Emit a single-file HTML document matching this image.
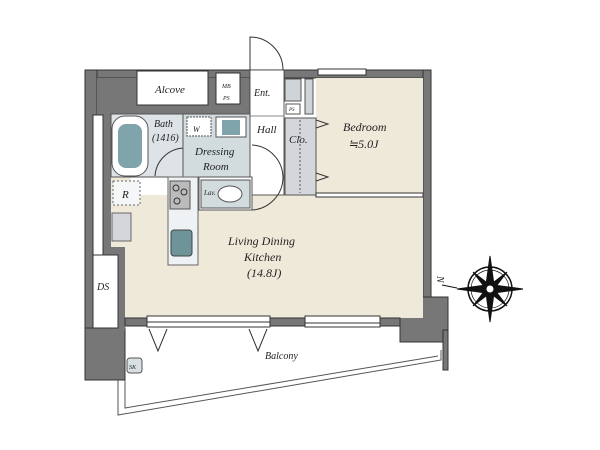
<!DOCTYPE html>
<html><head><meta charset="utf-8"><style>
html,body{margin:0;padding:0;background:#fff;}
svg{display:block;}
text{font-family:"Liberation Serif",serif;font-style:italic;fill:#222;}
</style></head><body>
<svg width="600" height="450" viewBox="0 0 600 450" xmlns="http://www.w3.org/2000/svg">
<rect x="85" y="70" width="345" height="8" fill="#777" stroke="#333" stroke-width="1"/>
<rect x="85" y="70" width="12" height="310" fill="#777" stroke="#333" stroke-width="1"/>
<rect x="423" y="70" width="8" height="228" fill="#777" stroke="#333" stroke-width="1"/>
<rect x="400" y="297" width="48" height="45" fill="#777" stroke="#333" stroke-width="1"/>
<rect x="443" y="330" width="5" height="40" fill="#777" stroke="#333" stroke-width="1"/>
<rect x="85" y="328" width="40" height="52" fill="#777" stroke="#333" stroke-width="1"/>
<rect x="97" y="78" width="155" height="37" fill="#777"/>
<rect x="97" y="78" width="16" height="180" fill="#777"/>
<rect x="97" y="240" width="28" height="90" fill="#777"/>
<rect x="125" y="195" width="298" height="123" fill="#efe9da"/>
<rect x="111" y="177" width="20" height="70" fill="#efe9da"/>
<rect x="316" y="78" width="107" height="117" fill="#efe9da"/>
<rect x="400" y="297" width="23" height="21" fill="#efe9da"/>
<rect x="125" y="318" width="275" height="8" fill="#777" stroke="#333"/>
<rect x="93" y="115" width="10" height="140" fill="#fff" stroke="#333"/>
<rect x="93" y="255" width="25" height="73" fill="#fff" stroke="#333"/>
<text x="97" y="290" font-size="10">DS</text>
<rect x="137" y="71" width="71" height="34" fill="#fff" stroke="#333"/>
<text x="155" y="93" font-size="11">Alcove</text>
<rect x="216" y="73" width="24" height="31" fill="#fff" stroke="#333"/>
<text x="222" y="88" font-size="6">MB</text>
<text x="223" y="100" font-size="6">PS</text>
<rect x="250" y="70" width="34" height="125" fill="#fff" stroke="#333" stroke-width="0.8"/>
<path d="M250 70 L250 37 A33 33 0 0 1 283 70" fill="none" stroke="#333"/>
<line x1="250" y1="116" x2="284" y2="116" stroke="#888"/>
<text x="254" y="96" font-size="10">Ent.</text>
<text x="257" y="133" font-size="11">Hall</text>
<path d="M252 145 A33 33 0 0 1 283 178" fill="none" stroke="#333"/>
<path d="M252 210 A33 33 0 0 0 283 178" fill="none" stroke="#333"/>
<rect x="285" y="79" width="16" height="22" fill="#cfd4d8" stroke="#555"/>
<rect x="305" y="79" width="8" height="35" fill="#cfd4d8" stroke="#555"/>
<rect x="286" y="104" width="14" height="10" fill="#fff" stroke="#555"/>
<text x="289" y="111" font-size="5">PS</text>
<rect x="285" y="118" width="31" height="77" fill="#d4d6db" stroke="#555"/>
<line x1="300" y1="120" x2="300" y2="193" stroke="#555" stroke-dasharray="2,2"/>
<text x="289" y="143" font-size="11">Clo.</text>
<path d="M316 120 L328 124 L316 128" fill="none" stroke="#333"/>
<path d="M316 173 L328 177 L316 181" fill="none" stroke="#333"/>
<rect x="318" y="69" width="48" height="6" fill="#fff" stroke="#333"/>
<rect x="316" y="193" width="107" height="4" fill="#fff" stroke="#333"/>
<text x="343" y="131" font-size="12">Bedroom</text>
<text x="348" y="148" font-size="12">≒5.0J</text>
<rect x="111" y="114" width="72" height="63" fill="#dde3e6" stroke="#555"/>
<rect x="112" y="116" width="36" height="60" rx="13" fill="#fff" stroke="#555"/>
<rect x="118" y="124" width="24" height="44" rx="8" fill="#7fa4ab"/>
<text x="154" y="127" font-size="10">Bath</text>
<text x="152" y="141" font-size="10">(1416)</text>
<path d="M184 148 A30 30 0 0 0 155 176" fill="none" stroke="#333"/>
<rect x="183" y="114" width="67" height="63" fill="#d2dbde" stroke="#555"/>
<rect x="187" y="117" width="24" height="19" fill="#fff" stroke="#555" stroke-dasharray="2,1"/>
<text x="193" y="132" font-size="8">W</text>
<rect x="216" y="117" width="30" height="20" fill="#fff" stroke="#555"/>
<rect x="222" y="120" width="18" height="15" fill="#7fa4ab"/>
<text x="195" y="155" font-size="11">Dressing</text>
<text x="203" y="170" font-size="11">Room</text>
<rect x="199" y="177" width="53" height="33" fill="#fff" stroke="#555"/>
<rect x="201" y="180" width="49" height="28" fill="#d2dbde" stroke="#555"/>
<text x="204" y="195" font-size="7">Lav.</text>
<ellipse cx="230" cy="194" rx="12" ry="8" fill="#fff" stroke="#555"/>
<rect x="113" y="181" width="27" height="24" fill="#f4f6f7" stroke="#666" stroke-dasharray="2,2"/>
<text x="122" y="198" font-size="11">R</text>
<rect x="112" y="213" width="19" height="28" fill="#d4d6db" stroke="#666"/>
<rect x="168" y="177" width="30" height="88" fill="#eef2f4" stroke="#666"/>
<rect x="170" y="181" width="20" height="28" fill="#bbb" stroke="#555"/>
<circle cx="176" cy="188" r="3" fill="none" stroke="#333"/>
<circle cx="184" cy="192" r="3" fill="none" stroke="#333"/>
<circle cx="177" cy="201" r="3" fill="none" stroke="#333"/>
<rect x="171" y="230" width="21" height="26" rx="3" fill="#6e9399" stroke="#444"/>
<text x="228" y="245" font-size="12">Living Dining</text>
<text x="244" y="261" font-size="12">Kitchen</text>
<text x="247" y="277" font-size="12">(14.8J)</text>
<rect x="147" y="316" width="123" height="11" fill="#fff" stroke="#333"/>
<line x1="147" y1="322" x2="270" y2="322" stroke="#333"/>
<rect x="305" y="316" width="75" height="11" fill="#fff" stroke="#333"/>
<line x1="305" y1="323" x2="380" y2="323" stroke="#333"/>
<path d="M149 329 L158 351 L167 329" fill="none" stroke="#333"/>
<path d="M249 329 L258 351 L267 329" fill="none" stroke="#333"/>
<text x="265" y="359" font-size="10">Balcony</text>
<polyline points="118,380 118,415 441,360 441,350" fill="none" stroke="#555"/>
<polyline points="125,380 125,408 438,356" fill="none" stroke="#555"/>
<rect x="127" y="358" width="15" height="15" rx="3" fill="#d8e0e3" stroke="#555"/>
<text x="129" y="369" font-size="6">SK</text>
<g transform="translate(490,289)" stroke="#111" fill="#111">
<circle r="22" fill="none" stroke-width="1.5"/>
<circle r="19" fill="none" stroke-width="0.7"/>
<polygon points="0,-33 4,-4 0,0 -4,-4"/><polygon points="0,33 4,4 0,0 -4,4"/>
<polygon points="-33,0 -4,-4 0,0 -4,4"/><polygon points="33,0 4,-4 0,0 4,4"/>
<polygon points="-17,-17 0,-4 -4,0"/><polygon points="17,17 0,4 4,0"/>
<polygon points="17,-17 4,0 0,-4"/><polygon points="-17,17 -4,0 0,4"/>
<circle r="4" fill="#fff"/>
<line x1="-33" y1="-1" x2="-48" y2="-4"/>
</g>
<text x="437" y="284" font-size="10" transform="rotate(90 441 280)">N</text>
</svg>
</body></html>
